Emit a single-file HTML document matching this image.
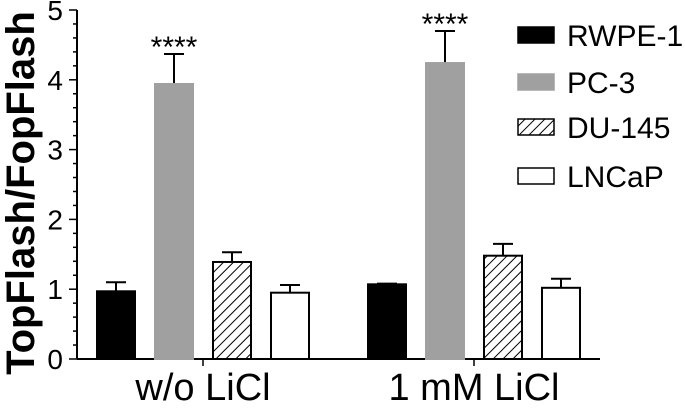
<!DOCTYPE html>
<html><head><meta charset="utf-8"><style>
body{margin:0;background:#fff;}
svg text{font-family:"Liberation Sans",Arial,sans-serif;}
</style></head><body>
<svg id="chart" width="685" height="408" viewBox="0 0 685 408" xmlns="http://www.w3.org/2000/svg">
<defs>
<pattern id="hatch" patternUnits="userSpaceOnUse" width="7" height="7" patternTransform="rotate(45)">
<rect width="7" height="7" fill="#fff"/><line x1="0" y1="0" x2="0" y2="7" stroke="#000" stroke-width="2"/>
</pattern>
</defs>
<g id="plot"></g>
</svg>
<script>
const categories = ["w/o LiCl", "1 mM LiCl"];
const seriesNames = ["RWPE-1", "PC-3", "DU-145", "LNCaP"];
const rwpe = [0.97, 1.07];
const pc3 = [3.94, 4.24];
const du145 = [1.39, 1.48];
const lncap = [0.95, 1.02];
const rwpeErr = [0.13, 0.01];
const pc3Err = [0.43, 0.46];
const du145Err = [0.14, 0.17];
const lncapErr = [0.11, 0.13];
const yTicks = [0, 1, 2, 3, 4, 5];
const sigLabels = ["****", "****"];

const NS = "http://www.w3.org/2000/svg";
const g = document.getElementById('plot');
const y0 = 359, yTop = 10, axX = 77, axEnd = 600;
function y(v){ return y0 - v * (y0 - yTop) / 5; }
const groupCenters = [203, 474];
const offsets = [-87, -29, 29, 87];
const barW = 38;
function x(ci, si){ return groupCenters[ci] + offsets[si]; }
function el(tag, attrs){ const e = document.createElementNS(NS, tag); for (const k in attrs) e.setAttribute(k, attrs[k]); g.appendChild(e); return e; }

const fills = ["#000", "#a0a0a0", "url(#hatch)", "#fff"];
const strokes = ["#000", "#a0a0a0", "#000", "#000"];
const vals = [rwpe, pc3, du145, lncap];
const errs = [rwpeErr, pc3Err, du145Err, lncapErr];

let a = el('line', {x1: axX, y1: y0, x2: axX, y2: y(5), stroke: '#000', 'stroke-width': 2});


for (let v = 0; v <= 25; v++) {
  const major = v % 5 === 0;
  const t = el('line', {x1: major ? 69 : 73, y1: y(v / 5), x2: axX, y2: y(v / 5), stroke: '#000', 'stroke-width': 1.5});
  
  
}
yTicks.forEach(v => {
  const t = el('text', {x: 63, y: y(v) + 10, 'font-size': 28, 'text-anchor': 'end', fill: '#000'});
  t.textContent = v;
  
  
});
const yt = el('text', {x: 0, y: 0, 'font-size': 40, 'font-weight': 'bold', 'text-anchor': 'middle', transform: 'translate(34,193) rotate(-90)'});
yt.textContent = 'TopFlash/FopFlash';



a = el('line', {x1: axX, y1: y0, x2: axEnd, y2: y0, stroke: '#000', 'stroke-width': 2});


categories.forEach((c, ci) => {
  const t = el('line', {x1: groupCenters[ci], y1: y0, x2: groupCenters[ci], y2: y0 + 7, stroke: '#000', 'stroke-width': 1.5});
  
  
  const l = el('text', {x: groupCenters[ci], y: 400, 'font-size': 38, 'text-anchor': 'middle'});
  l.textContent = c;
  
  
});

vals.forEach((arr, si) => {
  arr.forEach((v, ci) => {
    const cx = x(ci, si);
    const e = errs[si][ci];
    const ev = el('line', {x1: cx, y1: y(v), x2: cx, y2: y(v + e), stroke: '#000', 'stroke-width': 2});
    
    
    const ec = el('line', {x1: cx - 10, y1: y(v + e), x2: cx + 10, y2: y(v + e), stroke: '#000', 'stroke-width': 2});
    
    
    const r = el('rect', {x: cx - barW / 2, y: y(v), width: barW, height: y0 - y(v), fill: fills[si], stroke: strokes[si], 'stroke-width': 2});
    
    
  });
});
sigLabels.forEach((s, ci) => {
  const t = el('text', {x: x(ci, 1), y: y(pc3[ci] + pc3Err[ci]) + 3, 'font-size': 30, 'text-anchor': 'middle'});
  t.textContent = s;
  
  
});

const legY = [35, 82, 127, 176];
seriesNames.forEach((n, si) => {
  const r = el('rect', {x: 518, y: legY[si] - 8, width: 36, height: 16, fill: fills[si], stroke: strokes[si], 'stroke-width': 1.5});
  
  
  const t = el('text', {x: 567, y: legY[si] + 11, 'font-size': 30});
  t.textContent = n;
  
  
});
</script>
</body></html>
